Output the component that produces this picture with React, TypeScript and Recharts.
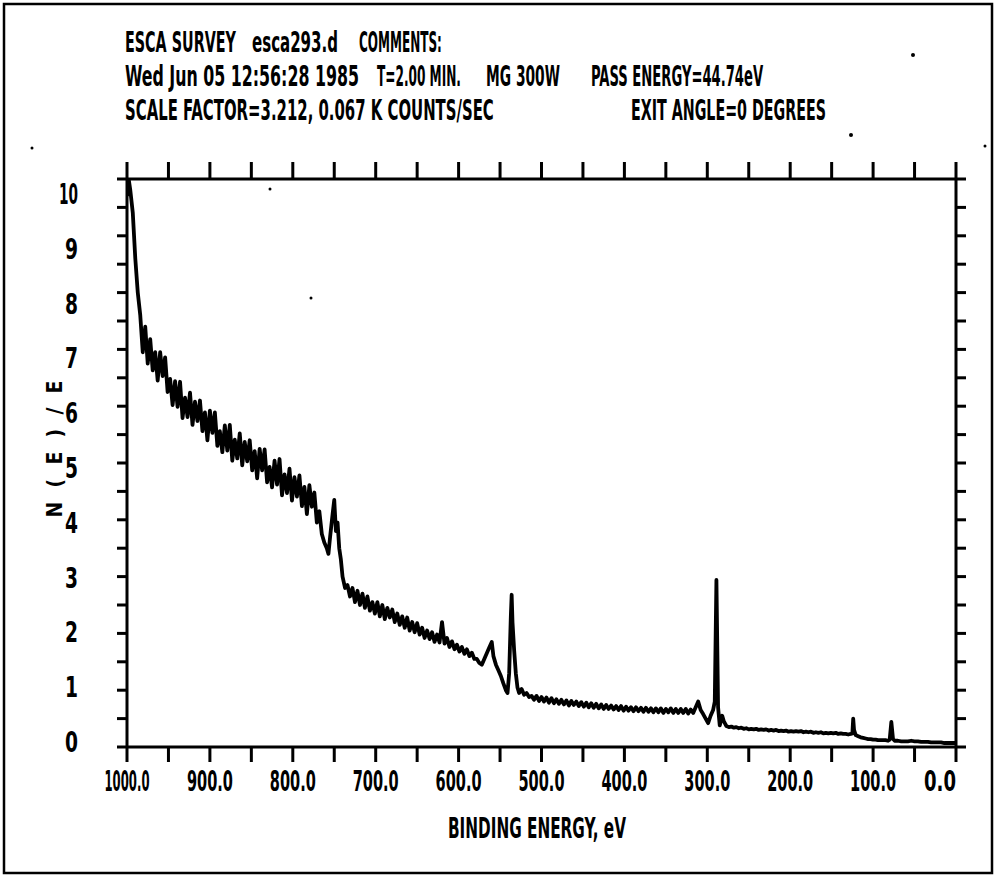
import React from 'react';
import { LineChart, Line, XAxis, YAxis } from 'recharts';

const energy = [
  1000, 998, 996, 993, 990, 987, 984, 981, 978, 975,
  972, 969, 966, 963, 960, 957, 954, 951, 948, 945,
  942, 939, 936, 933, 930, 927, 924, 921, 918, 915,
  912, 909, 906, 903, 900, 897, 894, 891, 888, 885,
  882, 879, 876, 873, 870, 867, 864, 861, 858, 855,
  852, 849, 846, 843, 840, 837, 834, 831, 828, 825,
  822, 819, 816, 813, 810, 807, 804, 801, 798, 795,
  792, 789, 786, 783, 780, 777, 774, 771, 768, 765,
  762, 759, 757, 755, 752, 750, 748, 746, 744, 742,
  740, 737, 734, 731, 728, 725, 722, 719, 716, 713,
  710, 707, 704, 701, 698, 695, 692, 689, 686, 683,
  680, 677, 674, 671, 668, 665, 662, 659, 656, 653,
  650, 647, 644, 641, 638, 635, 632, 629, 626, 623,
  620, 617, 614, 611, 608, 605, 602, 599, 596, 593,
  590, 587, 584, 581, 578, 575, 572, 569, 566, 563,
  560, 558, 555, 552, 549, 546, 543, 541, 539, 537,
  536, 535, 533, 531, 529, 527, 524, 521, 518, 515,
  512, 509, 506, 503, 500, 497, 494, 491, 488, 485,
  482, 479, 476, 473, 470, 467, 464, 461, 458, 455,
  452, 449, 446, 443, 440, 437, 434, 431, 428, 425,
  422, 419, 416, 413, 410, 407, 404, 401, 398, 395,
  392, 389, 386, 383, 380, 377, 374, 371, 368, 365,
  362, 359, 356, 353, 350, 347, 344, 341, 338, 335,
  332, 329, 326, 323, 320, 317, 314, 311, 308, 305,
  302, 299, 296, 293, 291, 289, 287, 285, 282, 280,
  277, 274, 271, 268, 265, 262, 259, 256, 253, 250,
  247, 244, 241, 238, 235, 232, 229, 226, 223, 220,
  217, 214, 211, 208, 205, 202, 199, 196, 193, 190,
  187, 184, 181, 178, 175, 172, 169, 166, 163, 160,
  157, 154, 151, 148, 145, 142, 139, 136, 133, 130,
  127, 125, 124, 123, 121, 118, 115, 112, 109, 106,
  103, 100, 97, 94, 91, 88, 85, 82, 80, 78,
  76, 74, 70, 66, 62, 58, 54, 50, 46, 42,
  38, 34, 30, 26, 22, 18, 14, 10, 6, 2, 0,
];

// N(E)/E
const intensity = [
  9.7, 10.0, 9.8, 9.4, 8.6, 8.0, 7.6, 6.95, 7.4, 6.75,
  7.18, 6.63, 6.95, 6.45, 6.95, 6.53, 6.86, 6.25, 6.48, 6.02,
  6.44, 5.99, 6.43, 5.79, 6.15, 5.81, 6.24, 5.67, 6.08, 5.74,
  6.1, 5.56, 5.89, 5.4, 5.92, 5.53, 5.89, 5.3, 5.56, 5.19,
  5.66, 5.22, 5.67, 5.04, 5.41, 5.08, 5.52, 4.96, 5.37, 5.03,
  5.4, 4.87, 5.21, 4.73, 5.25, 4.87, 5.24, 4.66, 4.93, 4.57,
  5.04, 4.62, 5.07, 4.43, 4.8, 4.47, 4.9, 4.34, 4.75, 4.41,
  4.78, 4.24, 4.58, 4.1, 4.61, 4.23, 4.48, 3.95, 4.15, 3.75,
  3.6, 3.5, 3.4, 3.7, 4.1, 4.35, 3.8, 3.95, 3.5, 3.3,
  3.0, 2.8, 2.85, 2.65, 2.8, 2.55, 2.75, 2.5, 2.7, 2.45,
  2.65, 2.4, 2.55, 2.35, 2.55, 2.3, 2.5, 2.25, 2.45, 2.28,
  2.42, 2.2, 2.35, 2.15, 2.3, 2.1, 2.28, 2.05, 2.2, 2.02,
  2.18, 1.98, 2.1, 1.92, 2.05, 1.9, 2.02, 1.85, 1.98, 1.84,
  2.2, 1.82, 1.92, 1.76, 1.86, 1.72, 1.8, 1.68, 1.76, 1.64,
  1.72, 1.6, 1.66, 1.55, 1.55, 1.48, 1.45, 1.55, 1.65, 1.75,
  1.85, 1.6, 1.45, 1.35, 1.25, 1.12, 1.0, 0.95, 1.3, 2.3,
  2.68, 2.2, 1.7, 1.3, 1.05, 0.95, 1.02, 0.92, 0.95, 0.88,
  0.9, 0.83, 0.9, 0.81, 0.88, 0.8, 0.87, 0.78, 0.86, 0.77,
  0.84, 0.76, 0.83, 0.75, 0.82, 0.73, 0.81, 0.74, 0.8, 0.72,
  0.79, 0.71, 0.78, 0.7, 0.77, 0.69, 0.76, 0.68, 0.75, 0.67,
  0.74, 0.67, 0.73, 0.66, 0.72, 0.65, 0.72, 0.64, 0.71, 0.64,
  0.7, 0.63, 0.7, 0.63, 0.69, 0.62, 0.69, 0.62, 0.68, 0.61,
  0.68, 0.61, 0.68, 0.6, 0.67, 0.61, 0.68, 0.6, 0.67, 0.6,
  0.67, 0.6, 0.67, 0.59, 0.66, 0.6, 0.7, 0.8, 0.65, 0.58,
  0.5, 0.42, 0.55, 0.65, 0.8, 2.94, 0.7, 0.38, 0.55, 0.45,
  0.37, 0.35, 0.36, 0.34, 0.35, 0.33, 0.34, 0.32, 0.33, 0.31,
  0.32, 0.31, 0.32, 0.3, 0.31, 0.3, 0.31, 0.29, 0.3, 0.29,
  0.3, 0.28, 0.29, 0.28, 0.29, 0.27, 0.28, 0.27, 0.28, 0.27,
  0.28, 0.26, 0.27, 0.26, 0.27, 0.25, 0.26, 0.25, 0.26, 0.24,
  0.25, 0.24, 0.25, 0.24, 0.25, 0.23, 0.24, 0.23, 0.23, 0.22,
  0.23, 0.24, 0.5, 0.3, 0.21, 0.19, 0.17, 0.16, 0.15, 0.14,
  0.14, 0.13, 0.13, 0.12, 0.12, 0.12, 0.12, 0.11, 0.13, 0.44,
  0.14, 0.11, 0.11, 0.1, 0.1, 0.1, 0.11, 0.1, 0.1, 0.09,
  0.09, 0.09, 0.08, 0.08, 0.08, 0.08, 0.07, 0.07, 0.07, 0.07, 0.07,
];

const xTicks = [
  1000, 950, 900, 850, 800, 750, 700, 650, 600, 550, 500,
  450, 400, 350, 300, 250, 200, 150, 100, 50, 0,
];
const xLabelTicks = [1000, 900, 800, 700, 600, 500, 400, 300, 200, 100, 0];
const yTicks = [
  0, 0.5, 1, 1.5, 2, 2.5, 3, 3.5, 4, 4.5, 5,
  5.5, 6, 6.5, 7, 7.5, 8, 8.5, 9, 9.5, 10,
];

const data = energy.map((e, i) => ({ energy: e, value: intensity[i] }));

const FONT = "'DejaVu Sans Condensed', 'DejaVu Sans', sans-serif";
const INK = '#000';

// measure text so it can be squeezed to the plotter's narrow lettering
let measureCtx: CanvasRenderingContext2D | null = null;
function naturalWidth(text: string, size: number) {
  if (!measureCtx) measureCtx = document.createElement('canvas').getContext('2d');
  if (!measureCtx) return text.length * size * 0.55;
  measureCtx.font = `bold ${size}px ${FONT}`;
  return measureCtx.measureText(text).width || text.length * size * 0.55;
}

const FitText = ({ x, y, width, size = 24, sy = 1.15, anchor = 'start', children }: any) => {
  const sx = width / naturalWidth(children, size);
  return (
    <text
      transform={`translate(${x},${y}) scale(${sx.toFixed(3)},${sy})`}
      textAnchor={anchor}
      fontFamily={FONT}
      fontWeight="bold"
      fontSize={size}
      fill={INK}
    >
      {children}
    </text>
  );
};

const XTick = (props: any) => {
  const { x, y, payload } = props;
  const v = payload.value;
  if (!xLabelTicks.includes(v)) return <g />;
  const label = v.toFixed(1);
  const len = label.length === 3 ? 32 : label.length === 6 ? 45 : 46;
  return (
    <FitText x={x} y={y + 27} width={len} size={24} sy={1.2} anchor={v === 0 ? 'end' : 'middle'}>
      {label}
    </FitText>
  );
};

const YTick = (props: any) => {
  const { x, y, payload } = props;
  const v = payload.value;
  if (!Number.isInteger(v)) return <g />;
  const label = String(v);
  // the plotter's labels drift slightly against the tick marks
  const drift = 2 * v - 5;
  return (
    <FitText x={x - 37} y={y + drift + 10} width={label.length > 1 ? 19 : 13} size={24} sy={1.2} anchor="end">
      {label}
    </FitText>
  );
};

const NoTick = () => <g />;

const axisStyle = { stroke: INK, strokeWidth: 3 };

export default function App() {
  return (
    <div style={{ position: 'absolute', left: 0, top: 0, width: 996, height: 877, background: '#fff' }}>
      <div style={{ position: 'absolute', left: 0, top: 0 }}>
        <LineChart
          width={996}
          height={877}
          data={data}
          margin={{ top: 159, right: 20, bottom: 70, left: 67 }}
        >
          <XAxis
            dataKey="energy"
            type="number"
            domain={[0, 1000]}
            reversed
            allowDataOverflow
            ticks={xTicks}
            interval={0}
            tickSize={15}
            height={60}
            axisLine={axisStyle}
            tickLine={axisStyle}
            tick={(p: any) => <XTick {...p} />}
          />
          <XAxis
            xAxisId="top"
            dataKey="energy"
            orientation="top"
            type="number"
            domain={[0, 1000]}
            reversed
            allowDataOverflow
            ticks={xTicks}
            interval={0}
            tickSize={17}
            height={20}
            axisLine={axisStyle}
            tickLine={axisStyle}
            tick={NoTick}
          />
          <YAxis
            type="number"
            domain={[0, 10]}
            allowDataOverflow
            ticks={yTicks}
            interval={0}
            tickSize={10}
            width={60}
            axisLine={axisStyle}
            tickLine={axisStyle}
            tick={(p: any) => <YTick {...p} />}
          />
          <YAxis
            yAxisId="right"
            orientation="right"
            type="number"
            domain={[0, 10]}
            allowDataOverflow
            ticks={yTicks}
            interval={0}
            tickSize={10}
            width={20}
            axisLine={axisStyle}
            tickLine={axisStyle}
            tick={NoTick}
          />
          {/* invisible twin so the top and right frame axes get drawn */}
          <Line
            xAxisId="top"
            yAxisId="right"
            type="linear"
            dataKey="value"
            stroke="none"
            dot={false}
            activeDot={false}
            legendType="none"
            isAnimationActive={false}
          />
          <Line
            type="linear"
            dataKey="value"
            stroke={INK}
            strokeWidth={3.8}
            strokeLinejoin="round"
            dot={false}
            isAnimationActive={false}
          />
        </LineChart>
      </div>
      <svg
        width={996}
        height={877}
        style={{ position: 'absolute', left: 0, top: 0, pointerEvents: 'none' }}
      >
        <rect x={4} y={4} width={988} height={869} fill="none" stroke={INK} strokeWidth={2.5} />

        <FitText x={125} y={52} width={111}>ESCA SURVEY</FitText>
        <FitText x={252} y={52} width={86}>esca293.d</FitText>
        <FitText x={359} y={52} width={83}>COMMENTS:</FitText>

        <FitText x={125} y={86} width={234}>Wed Jun 05 12:56:28 1985</FitText>
        <FitText x={377} y={86} width={84}>T=2.00 MIN.</FitText>
        <FitText x={486} y={86} width={74}>MG 300W</FitText>
        <FitText x={591} y={86} width={172}>PASS ENERGY=44.74eV</FitText>

        <FitText x={125} y={120} width={369}>SCALE FACTOR=3.212, 0.067 K COUNTS/SEC</FitText>
        <FitText x={631} y={120} width={195}>EXIT ANGLE=0 DEGREES</FitText>

        <FitText x={537} y={838} width={178} sy={1.2} anchor="middle">BINDING ENERGY, eV</FitText>

        <text
          transform="translate(62,449) rotate(-90)"
          textAnchor="middle"
          fontFamily={FONT}
          fontWeight="bold"
          fontSize={21}
          fill={INK}
          textLength={137}
          lengthAdjust="spacing"
        >
          N(E)/E
        </text>

        <circle cx={913} cy={55} r={2} fill={INK} />
        <circle cx={851} cy={135} r={2} fill={INK} />
        <circle cx={985} cy={146} r={1.5} fill={INK} />
        <circle cx={32} cy={148} r={1.5} fill={INK} />
        <circle cx={270} cy={189} r={1.5} fill={INK} />
        <circle cx={311} cy={298} r={1.5} fill={INK} />
      </svg>
    </div>
  );
}
